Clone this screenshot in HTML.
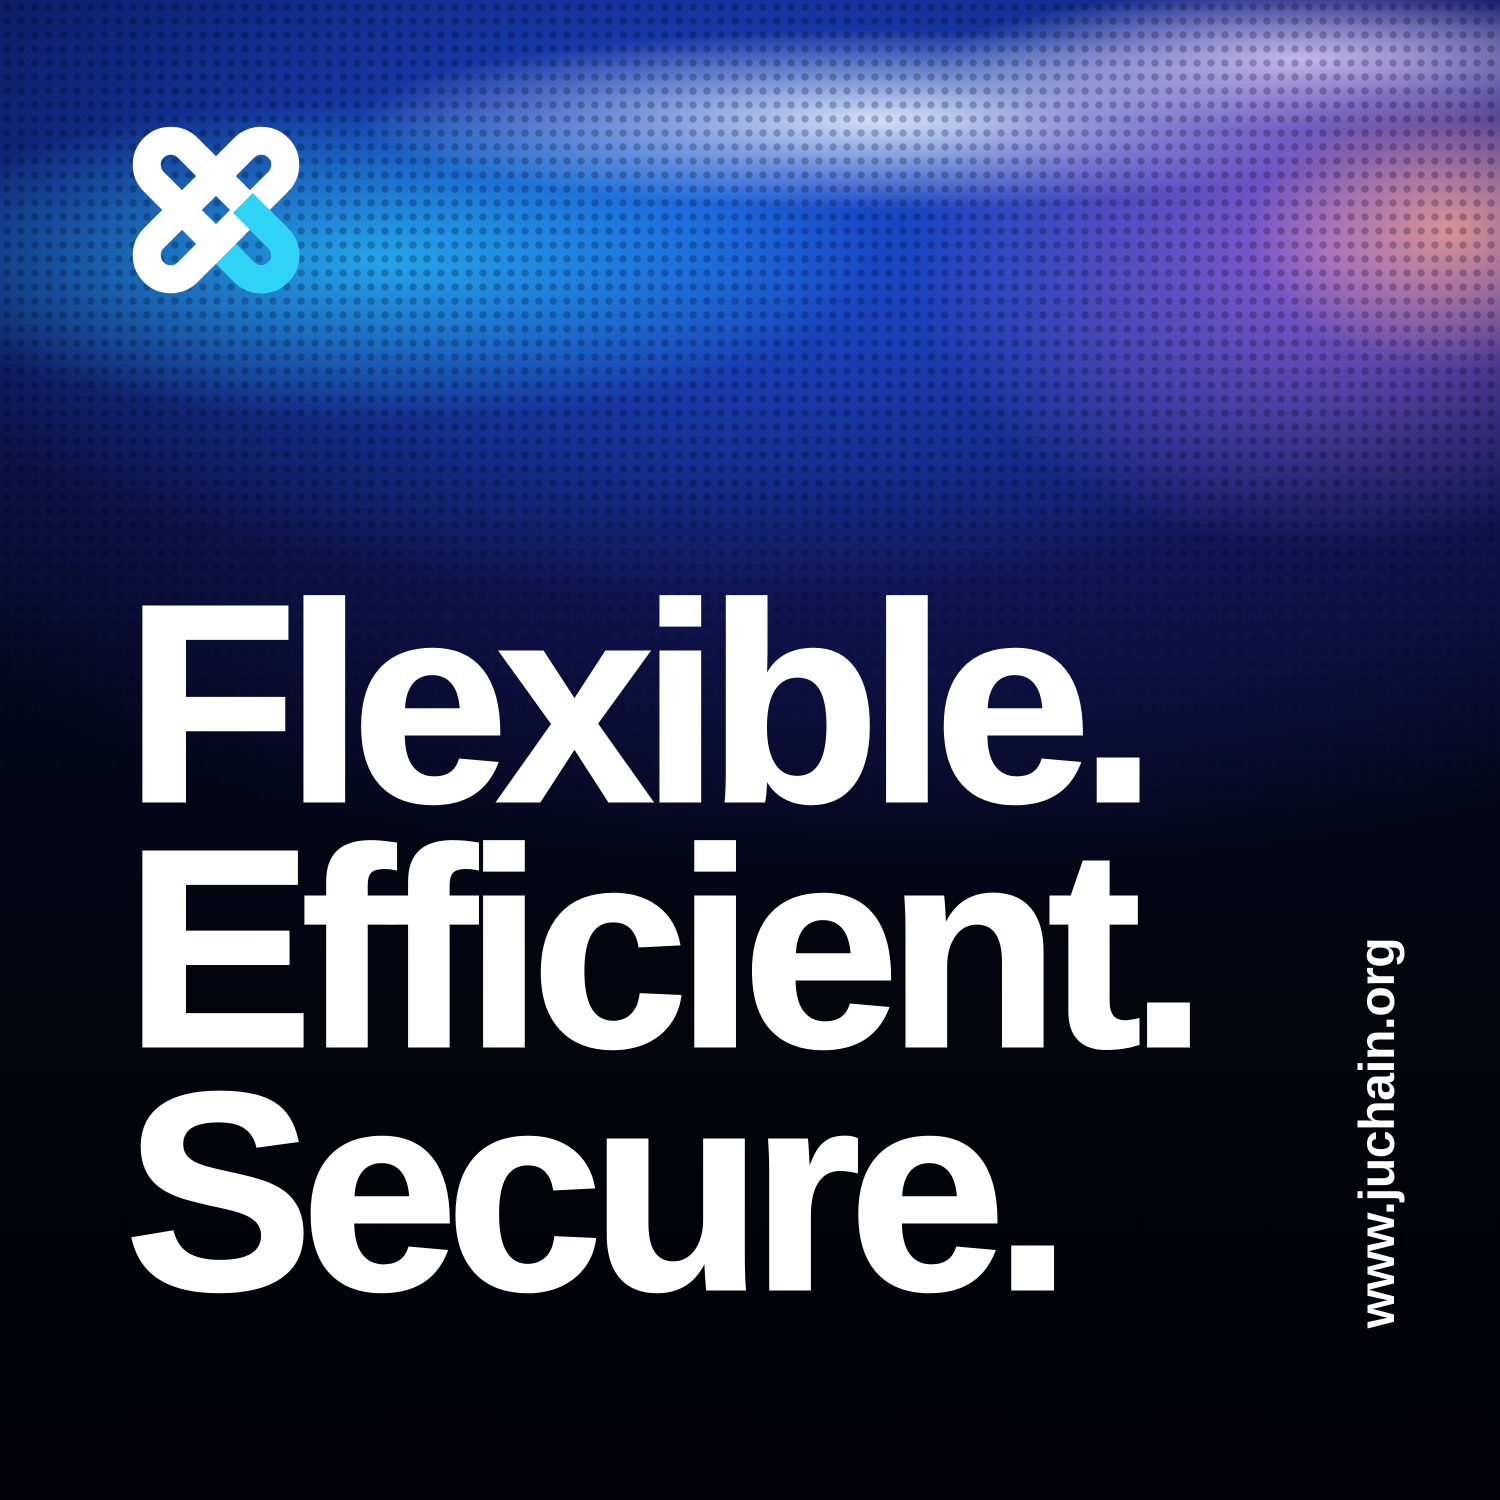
<!DOCTYPE html>
<html><head><style>
html,body{margin:0;padding:0;width:1500px;height:1500px;overflow:hidden;background:#03040c}
.bg{position:absolute;inset:0;background:
radial-gradient(ellipse 200px 140px at 1450px 230px, rgba(255,170,140,.75), rgba(255,120,160,0) 100%),
radial-gradient(ellipse 420px 300px at 1330px 250px, rgba(180,110,230,.75), rgba(120,80,200,0) 100%),
radial-gradient(ellipse 520px 90px at 880px 120px, rgba(230,240,255,.9), rgba(120,170,255,0) 100%),
radial-gradient(ellipse 360px 70px at 1300px 60px, rgba(235,240,255,.85), rgba(120,170,255,0) 100%),
radial-gradient(ellipse 500px 160px at 380px 260px, rgba(40,200,255,.75), rgba(20,120,240,0) 100%),
radial-gradient(ellipse 900px 380px at 700px 220px, rgba(25,90,230,.85), rgba(10,30,120,0) 100%),
radial-gradient(ellipse 1200px 600px at 900px 300px, rgba(30,40,150,.8), rgba(5,8,30,0) 100%),
linear-gradient(#0a1a60 0px,#081040 350px,#050820 650px,#03040c 1000px,#020208 1500px);}
.dots{position:absolute;left:0;top:0;width:1500px;height:800px;
background:radial-gradient(circle, rgba(0,0,20,.55) 35%, transparent 40%);background-size:14px 14px;
-webkit-mask:linear-gradient(#000 0,#000 500px,transparent 800px);mask:linear-gradient(#000 0,#000 500px,transparent 800px);opacity:.45}
.t{position:absolute;left:125px;font-family:"Liberation Sans",sans-serif;font-weight:bold;color:#fff;font-size:282px;letter-spacing:-12px;line-height:1;white-space:nowrap;-webkit-text-stroke:3px #fff}
.url{position:absolute;left:1377px;top:1133px;transform:translate(-50%,-50%) rotate(-90deg);font-family:"Liberation Sans",sans-serif;font-weight:bold;color:#fff;font-size:50px;white-space:nowrap;letter-spacing:-0.5px}
</style></head><body>
<div class="bg"></div>
<div class="dots"></div>
<svg style="position:absolute;left:0;top:0" width="400" height="400">
<g transform="translate(216,210)">
<rect x="-88" y="-24" width="176" height="48" rx="24" transform="rotate(45)" fill="none" stroke="#fff" stroke-width="28"/>
<rect x="-88" y="-24" width="176" height="48" rx="24" transform="rotate(-45)" fill="none" stroke="#fff" stroke-width="28"/>
<path d="M14 -24 L64 -24 A24 24 0 0 1 64 24 L38 24" transform="rotate(45)" fill="none" stroke="#2fd3f5" stroke-width="28"/>
</g>
</svg>
<div class="t" style="top:563px">Flexible.</div>
<div class="t" style="top:808px">Efficient.</div>
<div class="t" style="top:1051px">Secure.</div>
<div class="url">www.juchain.org</div>
</body></html>
